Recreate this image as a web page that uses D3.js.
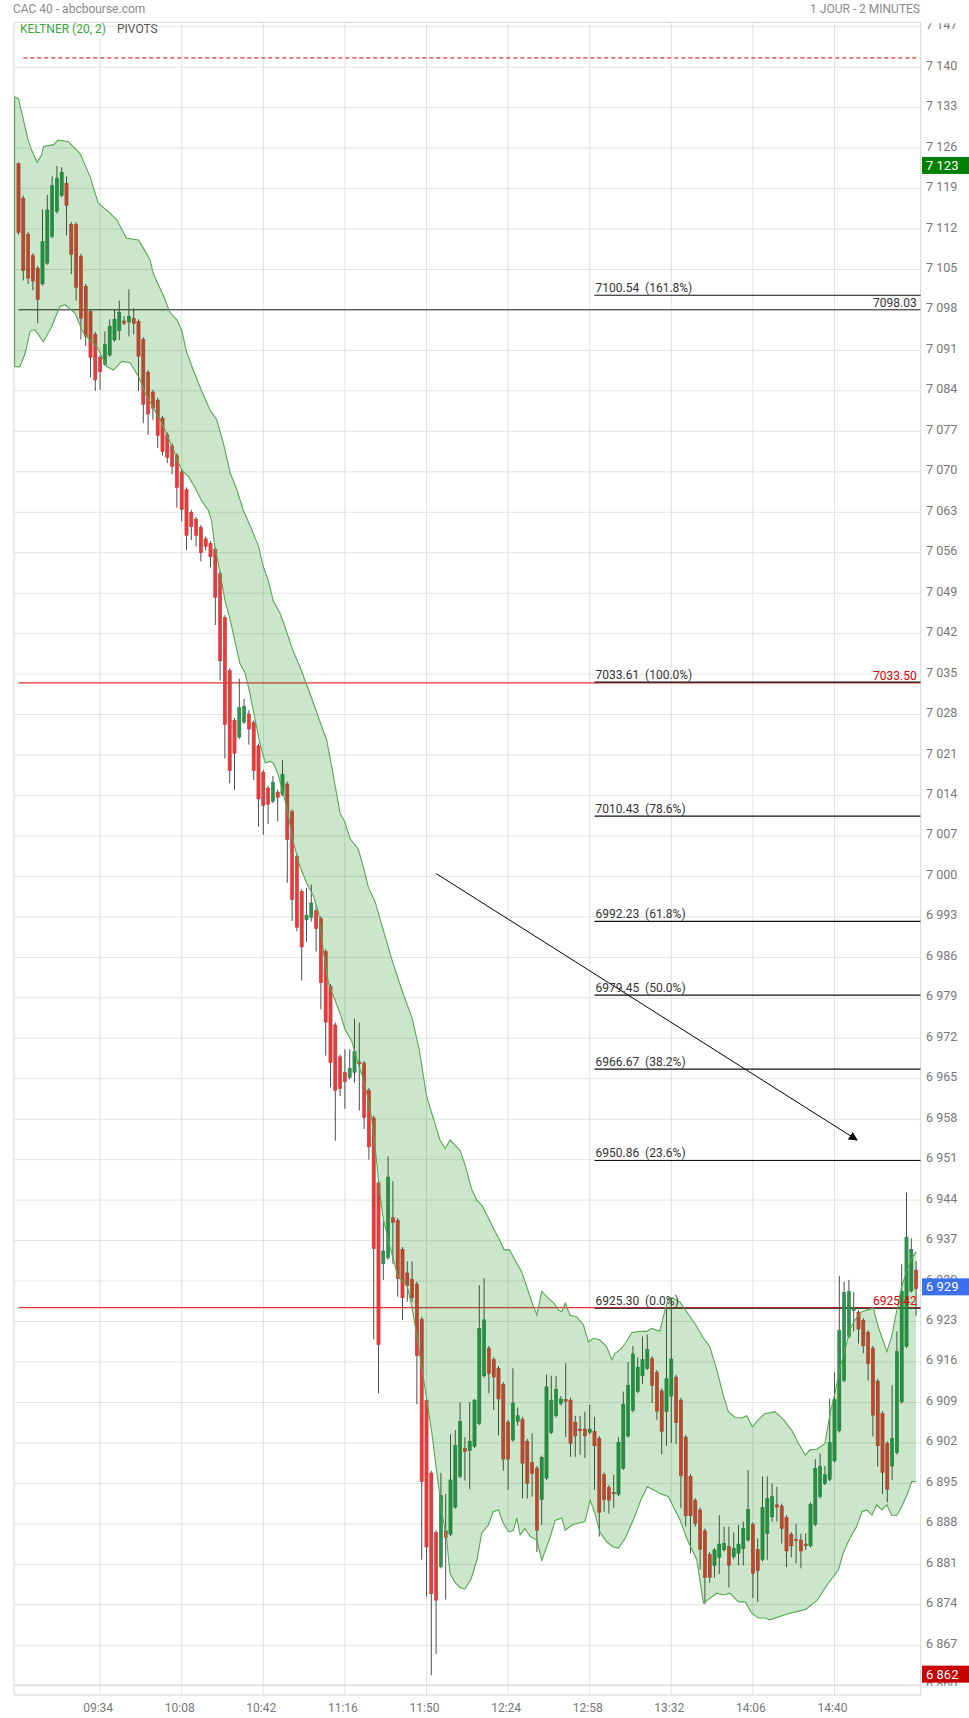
<!DOCTYPE html>
<html><head><meta charset="utf-8">
<script src="https://cdn.jsdelivr.net/npm/d3@7/dist/d3.min.js"></script>
<style>
html,body{margin:0;padding:0;background:#fff;}
svg{display:block;font-family:Roboto,"Liberation Sans",sans-serif;}
</style></head><body>
<svg id="chart" width="969" height="1718"></svg>
<script>
// ---------- DATA ----------
const firstTime = "09:00";           // time of candle 0, 2-minute candles
const open = [
7123.3,7117.3,7111.1,7107.4,7105.2,7102.5,7106.1,7110.7,7115.0,7117.8,
7119.9,7112.8,7112.8,7107.3,7102.1,7097.7,7093.8,7089.8,7088.6,7090.2,
7092.8,7094.4,7096.1,7095.9,7096.5,7096.0,7092.9,7087.2,7083.8,7082.4,
7079.3,7076.4,7074.5,7072.8,7070.0,7066.9,7063.0,7061.8,7060.4,7058.4,
7057.6,7056.6,7052.4,7044.8,7035.6,7027.0,7024.1,7026.7,7028.1,7026.6,
7022.6,7018.0,7015.3,7013.0,7014.6,7014.2,7016.0,7011.2,7003.5,6997.4,
6992.5,6992.9,6994.1,6992.7,6987.0,6981.0,6974.3,6968.8,6966.1,6965.2,
6966.1,6967.9,6967.7,6963.0,6958.2,6947.0,6933.0,6934.0,6941.0,6940.5,
6935.5,6931.4,6930.3,6929.5,6923.4,6909.4,6896.8,6886.5,6880.6,6886.8,
6886.2,6890.9,6896.2,6901.0,6900.7,6901.4,6905.4,6913.6,6918.4,6916.4,
6914.9,6912.1,6905.6,6902.5,6905.7,6906.1,6902.3,6898.6,6897.6,6892.2,
6895.9,6903.8,6906.7,6908.8,6909.5,6909.4,6905.6,6904.4,6904.4,6903.8,
6904.0,6902.8,6896.5,6894.3,6893.4,6893.1,6897.6,6903.2,6907.6,6910.9,
6913.6,6914.9,6916.6,6914.2,6911.0,6907.4,6910.1,6913.4,6909.4,6903.0,
6896.2,6892.0,6890.4,6886.8,6882.7,6880.8,6882.2,6883.5,6884.1,6882.3,
6882.9,6883.7,6885.2,6887.9,6883.6,6881.8,6886.3,6889.2,6891.3,6891.1,
6889.1,6886.2,6885.3,6885.2,6884.5,6884.2,6887.9,6892.7,6895.0,6895.7,
6898.9,6904.1,6912.8,6920.4,6924.9,6924.6,6923.2,6921.1,6918.4,6912.7,
6907.1,6901.9,6898.0,6900.3,6909.1,6918.7,6928.3,6931.9];
const high = [
7123.5,7117.8,7111.5,7107.8,7105.6,7115.4,7117.9,7121.1,7122.9,7122.7,
7121.1,7113.2,7113.2,7107.7,7102.5,7098.1,7094.2,7090.2,7094.3,7096.4,
7098.0,7099.6,7096.9,7101.6,7098.3,7096.4,7093.3,7087.6,7084.2,7082.8,
7079.7,7076.8,7074.9,7073.2,7070.4,7067.3,7063.4,7062.2,7060.8,7058.8,
7058.0,7057.0,7052.8,7045.2,7036.0,7027.4,7034.2,7030.7,7028.8,7027.0,
7023.0,7018.4,7015.7,7017.4,7015.0,7020.1,7016.4,7011.6,7003.9,6997.8,
6998.0,6998.6,6995.1,6993.1,6987.4,6981.4,6974.7,6969.2,6970.1,6970.1,
6975.4,6974.7,6968.1,6963.4,6958.6,6947.4,6940.4,6951.6,6947.3,6940.9,
6935.9,6933.4,6933.4,6929.9,6923.8,6909.8,6897.2,6886.9,6896.8,6893.2,
6903.5,6904.2,6909.0,6903.0,6909.1,6909.6,6929.3,6930.5,6918.8,6916.8,
6915.3,6912.5,6906.0,6914.9,6908.1,6906.5,6902.7,6903.7,6898.0,6899.8,
6913.8,6913.6,6913.6,6910.1,6915.8,6909.8,6906.7,6906.7,6907.4,6908.6,
6906.5,6903.2,6896.9,6894.7,6896.5,6903.0,6910.9,6916.0,6918.8,6916.8,
6920.4,6920.7,6917.0,6914.6,6911.4,6925.3,6927.0,6913.8,6909.8,6903.4,
6896.6,6892.4,6890.8,6887.2,6883.1,6883.8,6889.5,6887.5,6887.5,6886.5,
6887.8,6888.4,6897.3,6888.3,6885.5,6896.2,6896.2,6895.0,6894.4,6891.5,
6889.5,6886.6,6888.0,6886.3,6886.4,6891.7,6899.2,6900.2,6898.0,6909.7,
6914.2,6930.9,6929.9,6930.2,6928.1,6925.0,6923.6,6921.5,6918.8,6913.1,
6907.5,6902.3,6912.0,6921.3,6932.9,6945.3,6937.4,6933.5];
const low = [
7111.0,7103.1,7102.5,7101.4,7095.7,7102.2,7105.8,7110.4,7114.7,7117.5,
7110.9,7104.2,7099.6,7092.9,7091.8,7086.3,7084.0,7084.2,7088.3,7089.9,
7092.5,7092.8,7095.4,7093.4,7093.8,7084.0,7078.4,7076.4,7079.0,7074.1,
7072.8,7071.5,7069.6,7063.8,7061.4,7056.5,7058.2,7057.1,7054.5,7056.4,
7053.5,7043.5,7033.9,7020.4,7016.1,7015.0,7023.8,7026.4,7022.8,7016.7,
7008.6,7007.2,7009.1,7012.7,7009.5,7013.9,6998.9,6992.3,6990.5,6982.0,
6988.7,6992.2,6987.0,6977.0,6969.0,6963.5,6954.3,6962.0,6959.8,6964.9,
6964.3,6959.5,6956.3,6951.0,6919.9,6910.6,6930.2,6933.7,6933.0,6927.3,
6923.3,6926.4,6926.4,6908.7,6881.8,6875.4,6861.8,6865.5,6880.3,6874.9,
6885.9,6890.6,6895.9,6895.5,6894.0,6901.1,6905.1,6913.3,6910.6,6907.7,
6903.3,6897.2,6893.9,6902.2,6905.0,6892.4,6892.4,6892.7,6883.1,6887.8,
6895.6,6903.5,6906.4,6908.5,6903.0,6899.6,6899.6,6899.9,6899.4,6903.5,
6893.9,6885.8,6890.1,6889.8,6890.8,6892.8,6897.3,6902.9,6907.3,6910.6,
6912.2,6914.6,6908.9,6906.0,6900.0,6901.5,6902.0,6901.8,6890.7,6887.6,
6882.9,6887.5,6880.1,6874.1,6877.8,6878.7,6879.3,6883.2,6877.0,6881.9,
6880.8,6880.8,6884.9,6875.2,6874.5,6881.5,6881.8,6888.4,6888.4,6884.6,
6880.5,6882.2,6881.2,6880.3,6883.5,6883.9,6887.6,6892.4,6894.7,6895.4,
6898.6,6903.8,6912.5,6920.1,6921.3,6919.2,6917.5,6912.8,6903.1,6897.9,
6893.2,6891.7,6895.6,6900.0,6908.8,6918.4,6928.0,6924.0];
const close = [
7111.4,7104.8,7103.5,7103.0,7099.8,7109.8,7115.3,7119.5,7120.8,7121.8,
7116.1,7107.6,7101.9,7096.5,7093.4,7089.8,7085.9,7087.3,7092.0,7095.2,
7096.4,7097.6,7095.7,7096.9,7095.7,7090.0,7081.7,7080.0,7081.0,7076.3,
7073.5,7072.5,7070.9,7067.3,7063.5,7059.0,7060.5,7059.0,7056.0,7057.1,
7055.3,7048.3,7037.3,7026.3,7018.3,7021.3,7029.2,7029.4,7025.5,7018.3,
7013.4,7012.3,7012.5,7016.3,7013.7,7017.7,7006.4,6996.0,6991.2,6987.8,
6993.3,6995.4,6991.0,6981.6,6974.8,6967.8,6963.0,6963.3,6964.5,6966.8,
6969.7,6967.6,6958.3,6953.2,6935.6,6919.0,6935.2,6948.0,6940.1,6930.4,
6927.1,6929.2,6927.1,6917.1,6895.3,6884.0,6875.9,6874.8,6892.9,6885.6,
6895.6,6901.6,6905.7,6900.5,6902.3,6909.4,6921.8,6923.3,6914.0,6913.4,
6909.6,6899.2,6899.2,6908.9,6906.7,6898.5,6895.0,6896.7,6886.9,6899.5,
6911.7,6909.4,6911.3,6909.6,6909.2,6901.9,6903.2,6904.1,6903.2,6904.4,
6901.5,6890.0,6892.2,6892.1,6893.2,6902.1,6908.7,6912.0,6917.4,6915.1,
6916.4,6918.2,6911.9,6907.5,6904.0,6913.1,6916.5,6905.5,6896.3,6889.4,
6889.4,6888.1,6883.6,6878.7,6878.7,6883.5,6884.5,6884.6,6880.8,6883.8,
6884.5,6887.2,6890.5,6879.4,6879.9,6890.8,6892.4,6892.7,6890.9,6887.2,
6883.3,6884.2,6885.1,6883.3,6884.2,6891.4,6897.6,6897.9,6896.5,6902.1,
6909.5,6921.5,6928.0,6928.2,6925.4,6921.7,6918.8,6915.7,6906.8,6901.5,
6896.9,6894.0,6902.8,6917.8,6928.2,6937.6,6935.5,6928.7];

// Keltner (20,2) band: candle index -> price
const upperIdx = [-0.8,0,1,2,2.7,3.9,4.8,5.2,7.3,8.3,
10.4,12.8,14.9,16.6,19.1,20.5,22.5,25,25.8,27.4,
28.1,30.4,31.5,33,34,35,36.4,38.2,39.9,41.3,
42.7,44.1,45.5,46.8,48.6,50,51,52,53.1,54.5,
55.5,57,59,61,62.5,64.2,65.6,67,68,69.1,
70.8,71.8,72.9,74.3,75.3,78,80,82,83.5,85,
86.5,87.8,88.9,89.9,91.3,92,93,94.4,95.5,96.6,
97.8,98.9,100.1,101.2,102.3,103.4,104.8,105.9,107,108,
109,110.4,111.5,112.5,113.2,113.9,114.9,116.3,117.7,118.7,
119.8,121.1,122.5,123.6,124.3,125.3,126.4,127.8,129.5,130.9,
131.9,133.6,134.7,135.4,136.4,137.8,139.2,140.9,142.7,144,
145.5,146.8,147.9,149.3,150.7,151.7,152.9,154.1,155.5,156.5,
157.6,159.4,161.1,162.5,163.9,164.9,166.3,168,169.1,170.1,
171.2,172.2,173.3,174.3,175.7,177.1,178.1,179.1,180.9,181.9,
183,184,185.1,186.1,187];
const upperVal = [7134.9,7134.5,7131.0,7127.4,7125.7,7123.5,7124.8,7126.3,7126.6,7127.4,
7127.1,7125.1,7121.1,7116.5,7114.7,7113.6,7110.4,7110.1,7109.0,7106.7,
7104.2,7100.1,7097.6,7096.3,7094.5,7090.8,7087.6,7083.9,7080.7,7079.0,
7074.9,7069.8,7066.9,7063.4,7060.0,7057.1,7053.6,7051.3,7047.6,7045.5,
7043.2,7039.5,7035.5,7031.0,7027.5,7023.6,7017.4,7010.9,7009.4,7006.5,
7004.7,7001.8,6998.1,6995.6,6992.7,6985.0,6980.0,6975.5,6970.0,6962.0,
6958.0,6954.4,6952.9,6954.4,6953.2,6952.6,6950.2,6945.9,6944.0,6943.0,
6941.1,6939.2,6937.3,6935.4,6935.4,6933.7,6931.6,6929.0,6926.2,6924.1,
6928.2,6927.0,6926.2,6925.0,6924.7,6926.2,6924.1,6923.8,6922.4,6919.5,
6920.1,6919.8,6918.7,6916.4,6917.5,6918.1,6919.2,6921.1,6921.3,6921.3,
6921.8,6921.3,6925.0,6927.0,6927.0,6926.4,6924.7,6922.7,6920.1,6918.7,
6914.6,6910.3,6907.4,6906.4,6906.3,6906.7,6904.8,6906.0,6907.1,6907.2,
6907.4,6906.0,6904.2,6901.9,6899.9,6900.8,6900.9,6901.9,6907.1,6910.6,
6915.2,6918.1,6921.8,6923.3,6924.7,6925.1,6925.3,6922.1,6917.8,6920.4,
6925.0,6929.0,6931.9,6933.9,6935.1];
const lowerIdx = [-0.8,0.3,1.4,2.4,3.4,5.2,6.9,8.6,9.7,11.8,
13.5,14.9,16.3,18.4,19.8,21.5,23.2,25,26.4,28.1,
29.5,30.9,32.3,33.3,34.3,35.4,36.8,38.2,39.5,40.2,
40.9,42,43,44.1,45.5,46.1,47.2,48.2,49.3,50.3,
51.4,52.4,53.1,54.1,55.9,57.2,58.6,60,61.4,62.5,
63.5,64.6,66,67,68.1,69.4,70.8,72.2,73.6,74.6,
75.3,76,77.4,79.1,80.9,81.9,83,84,85,86.1,
87.1,88.2,89.2,89.9,90.9,92,93,94.3,95.5,96.5,
97.9,98.9,100,101,102.1,103.1,103.8,104.5,105.5,106.6,
108,109,110.7,111.8,113.2,113.9,115.3,116.6,118,119.1,
120.1,121.1,122.5,123.9,125,126.4,128.1,129.8,131,133.6,
135.4,136.4,137.8,139.2,141.3,142.7,144,145.5,146.8,148.2,
150,151.4,152.8,154.1,155.5,156.5,160.5,164,166.3,168.6,
170.8,171.8,173.2,174.6,175.7,176.7,177.8,178.8,179.9,180.9,
181.9,183,184,185.1,186.1,187];
const lowerVal = [7088.2,7088.2,7090.5,7094.3,7094.6,7092.5,7095.1,7098.6,7098.9,7097.4,
7094.0,7092.8,7091.7,7088.2,7087.6,7089.1,7088.9,7086.5,7083.6,7081.0,
7079.0,7076.4,7073.8,7071.5,7070.0,7069.2,7067.2,7064.9,7063.4,7061.7,
7057.1,7052.5,7047.8,7044.4,7039.2,7036.9,7035.2,7031.7,7027.1,7023.0,
7019.6,7019.9,7019.6,7017.6,7012.0,7006.1,7001.8,6998.9,6996.7,6993.8,
6987.2,6981.4,6978.5,6976.3,6973.4,6971.6,6967.5,6963.9,6958.1,6950.8,
6945.0,6940.7,6935.9,6930.6,6929.4,6925.8,6920.5,6915.1,6909.7,6903.8,
6897.2,6890.1,6885.3,6879.4,6877.9,6877.0,6876.7,6878.5,6881.7,6886.4,
6887.8,6890.1,6890.4,6888.1,6886.6,6886.9,6889.0,6886.1,6887.2,6885.8,
6885.2,6881.7,6885.5,6888.6,6889.0,6886.9,6887.8,6888.1,6888.4,6892.1,
6889.8,6886.6,6884.9,6884.0,6883.8,6885.5,6888.7,6892.4,6894.4,6893.3,
6892.7,6891.0,6888.7,6885.5,6881.8,6874.3,6875.1,6876.0,6875.7,6876.0,
6874.5,6874.5,6872.5,6871.7,6871.7,6871.4,6872.5,6873.2,6874.7,6877.6,
6880.0,6882.9,6885.5,6887.5,6890.1,6890.4,6889.5,6891.3,6890.4,6891.3,
6889.5,6889.5,6891.0,6893.0,6895.3,6895.3];

const priceTicks = [7147,7140,7133,7126,7119,7112,7105,7098,7091,7084,7077,7070,7063,7056,7049,7042,
7035,7028,7021,7014,7007,7000,6993,6986,6979,6972,6965,6958,6951,6944,6937,6930,6923,6916,6909,6902,
6895,6888,6881,6874,6867,6860];
const timeLabels = ["09:34","10:08","10:42","11:16","11:50","12:24","12:58","13:32","14:06","14:40"];

const fibValues = [7100.54,7033.61,7010.43,6992.23,6979.45,6966.67,6950.86,6925.30];
const fibPercents = ["161.8%","100.0%","78.6%","61.8%","50.0%","38.2%","23.6%","0.0%"];
const fibStartIdx = 120;
const pivotDashed = 7141.6;
const blackLevel = 7098.03;
const redLevels = [7033.50, 6925.42];
const lineStartIdx = 0;
const arrowIdx = [87, 174.7];
const arrowVal = [7000.5, 6954.4];
const badgeHigh = 7123, badgeLast = 6929, badgeLow = 6862;

// ---------- CHART ----------
const svg = d3.select("#chart");
const P = {left:14, right:920.7, top:22.3, bottom:1685, strip:1695};
const x = d3.scaleLinear().domain([0,187]).range([18.5,916.1]);
const y = d3.scaleLinear().domain([6860,7147]).range([1685.7,26.7]);
const tIdx = s => { const [h,m]=s.split(":").map(Number); const [h0,m0]=firstTime.split(":").map(Number); return ((h*60+m)-(h0*60+m0))/2; };
const fmtSp = v => d3.format(",")(v).replace(/,/g," ");
const NB = "\u00A0";

const defs = svg.append("defs");
defs.append("clipPath").attr("id","clip").append("rect")
  .attr("x",P.left).attr("y",P.top).attr("width",P.right-P.left).attr("height",P.bottom-P.top);
defs.append("clipPath").attr("id","clipAxis").append("rect")
  .attr("x",P.right).attr("y",P.top+1).attr("width",969-P.right).attr("height",P.bottom+1-(P.top+1));
defs.append("marker").attr("id","arrowhead").attr("viewBox","0 0 10 10").attr("refX",9).attr("refY",5)
  .attr("markerWidth",9).attr("markerHeight",9).attr("orient","auto-start-reverse").attr("markerUnits","userSpaceOnUse")
  .append("path").attr("d","M0,0 L10,5 L0,10 z").attr("fill","#000");

// grid
const grid = svg.append("g");
grid.selectAll("line.h").data(priceTicks).join("line")
  .attr("x1",P.left).attr("x2",P.right).attr("y1",d=>y(d)).attr("y2",d=>y(d))
  .attr("stroke","#e2e2e2").attr("stroke-width",1);
grid.selectAll("line.v").data(timeLabels).join("line")
  .attr("x1",d=>x(tIdx(d))).attr("x2",d=>x(tIdx(d))).attr("y1",P.top).attr("y2",P.strip)
  .attr("stroke","#e2e2e2").attr("stroke-width",1);
// frame
const fr = svg.append("g").attr("stroke","#d6d6d6").attr("stroke-width",1);
fr.append("line").attr("x1",P.left).attr("x2",P.right).attr("y1",P.top).attr("y2",P.top);
fr.append("line").attr("x1",P.left).attr("x2",P.right).attr("y1",P.bottom).attr("y2",P.bottom);
fr.append("line").attr("x1",P.left).attr("x2",P.right).attr("y1",P.strip).attr("y2",P.strip);
fr.append("line").attr("x1",P.left).attr("x2",P.left).attr("y1",P.top).attr("y2",P.strip);
fr.append("line").attr("x1",P.right).attr("x2",P.right).attr("y1",P.top).attr("y2",P.strip);

const plot = svg.append("g").attr("clip-path","url(#clip)");

// horizontal levels
plot.append("line").attr("x1",x(1)).attr("x2",x(187)).attr("y1",y(pivotDashed)).attr("y2",y(pivotDashed))
  .attr("stroke","#d80000").attr("stroke-width",1).attr("stroke-dasharray","4,3");
plot.append("line").attr("x1",x(lineStartIdx)).attr("x2",P.right).attr("y1",y(blackLevel)).attr("y2",y(blackLevel))
  .attr("stroke","#222").attr("stroke-width",1);
plot.selectAll("line.red").data(redLevels).join("line")
  .attr("x1",x(lineStartIdx)).attr("x2",P.right).attr("y1",d=>y(d)).attr("y2",d=>y(d))
  .attr("stroke","#e53030").attr("stroke-width",1.2);
plot.selectAll("line.fib").data(fibValues).join("line")
  .attr("x1",x(fibStartIdx)).attr("x2",P.right).attr("y1",d=>y(d)).attr("y2",d=>y(d))
  .attr("stroke","#111").attr("stroke-width",1.2);

// candles
const candles = d3.range(open.length).map(i=>({i,o:open[i],h:high[i],l:low[i],c:close[i]}));
const RED="#e63b3b", GREEN="#2f9150";
const cg = plot.append("g");
cg.selectAll("line.w").data(candles).join("line")
  .attr("x1",d=>x(d.i)).attr("x2",d=>x(d.i))
  .attr("y1",d=>y(d.h)).attr("y2",d=>y(d.l))
  .attr("stroke","#4d4d4d").attr("stroke-width",1);
cg.selectAll("rect").data(candles).join("rect")
  .attr("x",d=>x(d.i)-1.6).attr("width",3.2)
  .attr("y",d=>y(Math.max(d.o,d.c)))
  .attr("height",d=>Math.max(1.2,Math.abs(y(d.o)-y(d.c))))
  .attr("fill",d=>d.c>=d.o?GREEN:RED)
  .attr("stroke",d=>d.c>=d.o?"#267a42":"#c23030").attr("stroke-width",0.5);

// Keltner band
const up = upperIdx.map((v,k)=>[v,upperVal[k]]);
const lo = lowerIdx.map((v,k)=>[v,lowerVal[k]]);
const ln = d3.line().x(d=>x(d[0])).y(d=>y(d[1]));
plot.append("path").attr("d", ln(up.concat(lo.slice().reverse()))+"Z")
  .attr("fill","rgba(0,128,0,0.2)").attr("stroke","none");
plot.append("path").attr("d",ln(up)).attr("fill","none").attr("stroke","#55a84f").attr("stroke-width",1.1);
plot.append("path").attr("d",ln(lo)).attr("fill","none").attr("stroke","#55a84f").attr("stroke-width",1.1);
plot.append("path").attr("d",ln([up[0],lo[0]])).attr("fill","none").attr("stroke","#55a84f").attr("stroke-width",1.1);

// arrow
plot.append("line").attr("x1",x(arrowIdx[0])).attr("y1",y(arrowVal[0]))
  .attr("x2",x(arrowIdx[1])).attr("y2",y(arrowVal[1]))
  .attr("stroke","#000").attr("stroke-width",1).attr("marker-end","url(#arrowhead)");

// level labels
const lab = svg.append("g").style("font-size","12px");
lab.selectAll("text.fib").data(fibValues).join("text")
  .attr("x",x(fibStartIdx)+1).attr("y",d=>y(d)-3)
  .attr("fill","#333").text((d,k)=>d.toFixed(2)+NB+NB+"("+fibPercents[k]+")");
lab.append("text").attr("x",P.right-4).attr("y",y(blackLevel)-3).attr("text-anchor","end")
  .attr("fill","#333").text(blackLevel.toFixed(2));
lab.selectAll("text.red").data(redLevels).join("text")
  .attr("x",P.right-4).attr("y",d=>y(d)-3).attr("text-anchor","end")
  .attr("fill","#e60000").text(d=>d.toFixed(2));

// price axis
const ax = svg.append("g").attr("clip-path","url(#clipAxis)").style("font-size","12.5px");
ax.selectAll("text").data(priceTicks).join("text")
  .attr("x",926).attr("y",d=>y(d)+2.5).attr("fill","#777").text(d=>fmtSp(d));
// badges
const badges = [{v:badgeHigh,c:"#008000"},{v:badgeLast,c:"#3b6ff0"},{v:badgeLow,c:"#c80000"}];
const bg = svg.append("g");
bg.selectAll("rect").data(badges).join("rect")
  .attr("x",922).attr("width",47).attr("y",d=>y(d.v)-8.5).attr("height",17).attr("fill",d=>d.c);
bg.selectAll("text").data(badges).join("text")
  .attr("x",926).attr("y",d=>y(d.v)+4.5).attr("fill","#fff").style("font-size","13px").text(d=>fmtSp(d.v));

// time axis
svg.append("g").style("font-size","12px").selectAll("text").data(timeLabels).join("text")
  .attr("x",d=>x(tIdx(d))-2).attr("y",1712).attr("text-anchor","middle").attr("fill","#777").text(d=>d);

// header / legend
svg.append("text").attr("x",13).attr("y",13).attr("fill","#8a8a8a").style("font-size","12px").text("CAC 40 - abcbourse.com");
svg.append("text").attr("x",920).attr("y",13).attr("text-anchor","end").attr("fill","#8a8a8a").style("font-size","12px").text("1 JOUR - 2 MINUTES");
svg.append("text").attr("x",20).attr("y",33).attr("fill","#3da53d").style("font-size","12px").text("KELTNER (20, 2)");
svg.append("text").attr("x",117).attr("y",33).attr("fill","#555").style("font-size","12px").text("PIVOTS");
</script>
</body></html>
